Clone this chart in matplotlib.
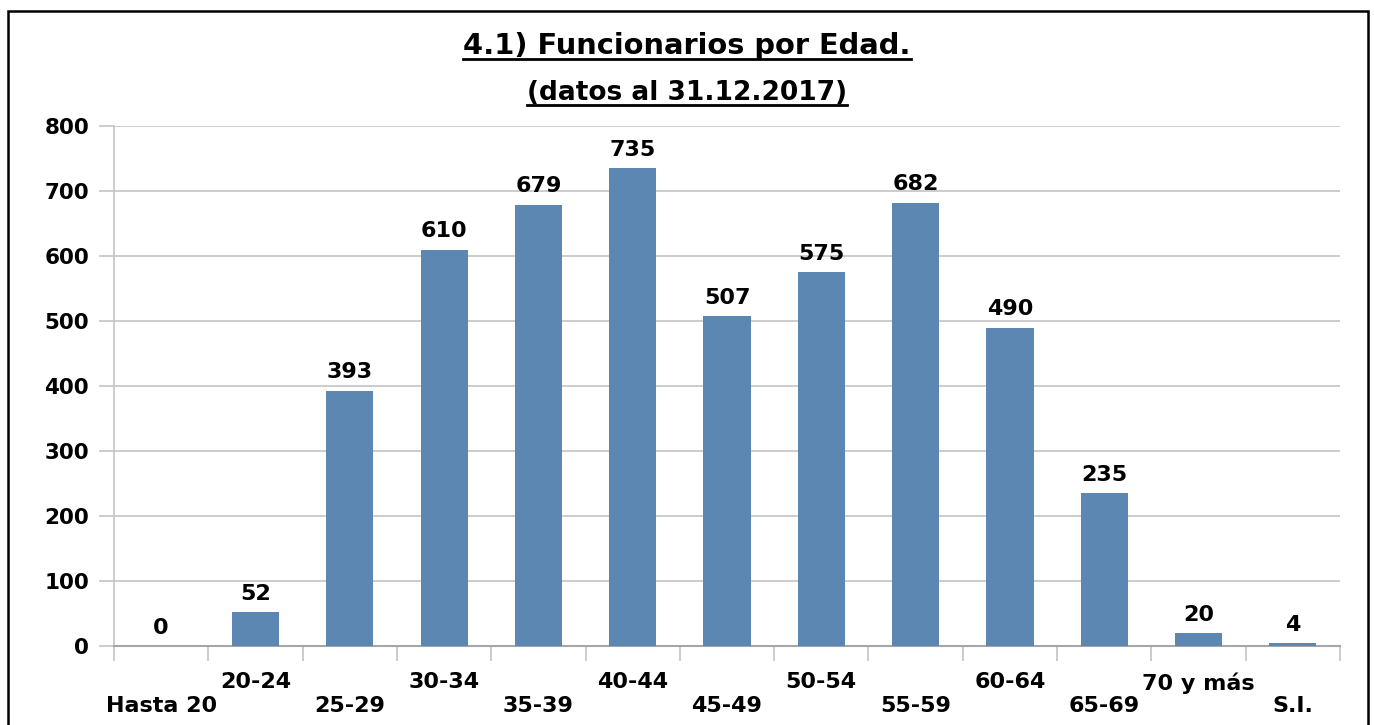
import matplotlib.pyplot as plt
import numpy as np
from matplotlib.patches import Rectangle
from matplotlib.lines import Line2D

categorias = ['Hasta 20', '20-24', '25-29', '30-34', '35-39', '40-44', '45-49',
              '50-54', '55-59', '60-64', '65-69', '70 y más', 'S.I.']
funcionarios = [0, 52, 393, 610, 679, 735, 507, 575, 682, 490, 235, 20, 4]

W, H = 1374, 725
fig = plt.figure(figsize=(W / 100, H / 100), dpi=100)
ax = fig.add_axes([114 / W, 1 - 646 / H, (1340 - 114) / W, (646 - 126) / H])

x = np.arange(len(categorias))
bars = ax.bar(x, funcionarios, width=0.5, color='#5b87b2', zorder=3)

fs = 15.5
for b, v in zip(bars, funcionarios):
    ax.annotate(str(v), (b.get_x() + b.get_width() / 2, v), xytext=(0, 6),
                textcoords='offset points', ha='center', va='bottom',
                fontsize=16, fontweight='bold')

ax.set_xlim(-0.5, len(categorias) - 0.5)
ax.set_ylim(0, 800)
ax.set_yticks(range(0, 801, 100))
ax.yaxis.grid(True, color='#c4c4c4', linewidth=1.2, zorder=0)
ax.tick_params(axis='y', length=11, color='#c4c4c4', width=1.2, labelsize=fs, pad=7)
for t in ax.get_yticklabels():
    t.set_fontweight('bold')

# etiquetas alternadas en dos filas
etiquetas = [('\n' + c) if i % 2 == 0 else c for i, c in enumerate(categorias)]
ax.set_xticks(x)
ax.set_xticklabels(etiquetas, fontsize=16, fontweight='bold', linespacing=1.2)
ax.tick_params(axis='x', which='major', length=0, pad=19)
ax.set_xticks(np.arange(-0.5, len(categorias), 1), minor=True)
ax.tick_params(axis='x', which='minor', length=11, color='#c4c4c4', width=1.2)

for s in ['top', 'right']:
    ax.spines[s].set_visible(False)
ax.spines['left'].set_color('#c4c4c4')
ax.spines['left'].set_linewidth(1.2)
ax.spines['bottom'].set_color('#a6a6a6')
ax.spines['bottom'].set_linewidth(1.5)

# marco
fig.patches.append(Rectangle((8 / W, -0.05), (1368 - 8) / W, 1.05 - 11 / H,
                             transform=fig.transFigure, fill=False,
                             edgecolor='black', linewidth=1.8))

t1 = fig.text(687 / W, 1 - 46 / H, '4.1) Funcionarios por Edad.', ha='center',
              va='center', fontsize=20.8, fontweight='bold')
t2 = fig.text(687 / W, 1 - 93 / H, '(datos al 31.12.2017)', ha='center',
              va='center', fontsize=19, fontweight='bold')

# subrayado de los títulos
fig.canvas.draw()
r = fig.canvas.get_renderer()
for t, off in [(t1, 1), (t2, 1)]:
    bb = t.get_window_extent(r)
    yy = (bb.y0 + off) / H
    fig.lines.append(Line2D([bb.x0 / W, bb.x1 / W], [yy, yy], transform=fig.transFigure,
                            color='black', linewidth=2))

fig.savefig('out.png', dpi=100)
